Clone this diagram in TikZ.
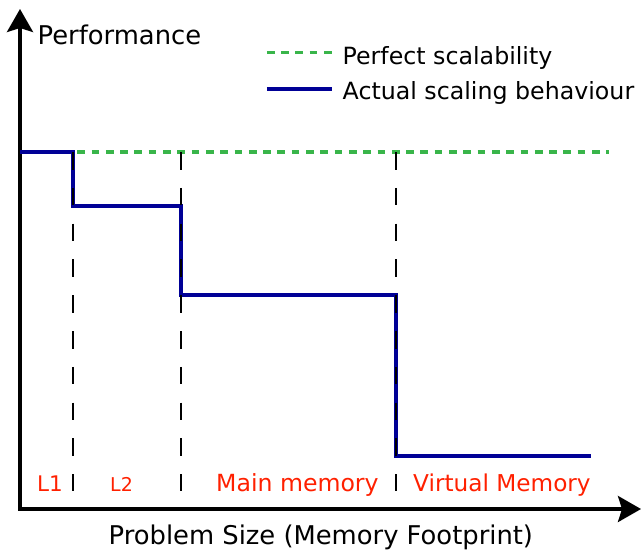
\documentclass[tikz,border=0pt]{standalone}
\usepackage{fontspec}
\setmainfont{DejaVu Sans}
\usetikzlibrary{arrows.meta}

\definecolor{idealgreen}{HTML}{39B54A}
\definecolor{actualblue}{HTML}{000096}
\definecolor{regionred}{HTML}{FF2000}

\tikzset{
  axisline/.style={line width=3.4pt, line join=miter,
    {Stealth[length=23pt,width=26pt,inset=4pt]}-{Stealth[length=23pt,width=26pt,inset=4pt]}},
  idealline/.style={idealgreen, line width=3.4pt, dash pattern=on 7.7pt off 6.6pt},
  actualline/.style={actualblue, line width=3.4pt, line join=miter},
  boundary/.style={black, line width=1.7pt, dash pattern=on 17.5pt off 18.3pt},
  axislabel/.style={anchor=base west, inner sep=0pt, font=\fontsize{25.8}{30}\selectfont},
  legendlabel/.style={anchor=base west, inner sep=0pt, font=\fontsize{23.7}{28}\selectfont},
  regionlabel/.style={anchor=base west, inner sep=0pt, text=regionred},
}

\begin{document}
\begin{tikzpicture}[x=1pt, y=-1pt]
  \useasboundingbox (0,0) rectangle (642,550);

  % axes
  \coordinate (origin) at (20,509);
  \coordinate (ytip) at (20,9);
  \coordinate (xtip) at (641,509);
  \draw[axisline] (ytip) -- (origin) -- (xtip);
  \node[axislabel] (ylabel) at (37.5,44.3) {Performance};
  \node[axislabel] (xlabel) at (108.5,544) {Problem Size (Memory Footprint)};

  % ideal scaling
  \coordinate (idealstart) at (20,152);
  \coordinate (idealend) at (609,152);
  \draw[idealline] (idealstart) -- (idealend);

  % measured scaling steps
  \coordinate (s0) at (20,152);
  \coordinate (s1) at (73,152);
  \coordinate (s2) at (73,206);
  \coordinate (s3) at (181,206);
  \coordinate (s4) at (181,295);
  \coordinate (s5) at (396,295);
  \coordinate (s6) at (396,456);
  \coordinate (s7) at (591,456);
  \draw[actualline] (s0) -- (s1) -- (s2) -- (s3) -- (s4) -- (s5) -- (s6) -- (s7);

  % memory hierarchy boundaries
  \foreach \bx/\bn in {73/a, 181/b, 396/c} {
    \coordinate (top\bn) at (\bx,152);
    \coordinate (bot\bn) at (\bx,491);
    \draw[boundary] (top\bn) -- (bot\bn);
  }

  % region labels
  \node[regionlabel, font=\fontsize{21.5}{26}\selectfont] (lone) at (37,491) {L1};
  \node[regionlabel, font=\fontsize{19}{22}\selectfont] (ltwo) at (110,491) {L2};
  \node[regionlabel, font=\fontsize{23.6}{28}\selectfont] (mainmem) at (216,491.5) {Main memory};
  \node[regionlabel, font=\fontsize{23.2}{28}\selectfont] (virtmem) at (413,491.5) {Virtual Memory};

  % legend
  \coordinate (lgA) at (266.8,52.6);
  \coordinate (lgB) at (332,52.6);
  \coordinate (lbA) at (266.8,89);
  \coordinate (lbB) at (332,89);
  \draw[idealline] (lgA) -- (lgB);
  \draw[actualline] (lbA) -- (lbB);
  \node[legendlabel] (legideal) at (342.5,64) {Perfect scalability};
  \node[legendlabel] (legactual) at (342.5,99.3) {Actual scaling behaviour};
\end{tikzpicture}
\end{document}
